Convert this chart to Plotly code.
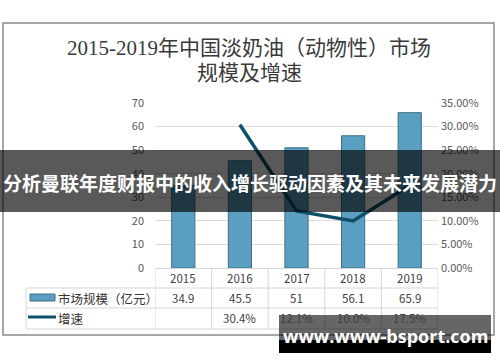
import plotly.graph_objects as go

years = ["2015", "2016", "2017", "2018", "2019"]
market_size = [34.9, 45.5, 51, 56.1, 65.9]
growth = [None, 0.304, 0.121, 0.100, 0.175]
growth_labels = ["", "30.4%", "12.1%", "10.0%", "17.5%"]
size_labels = ["34.9", "45.5", "51", "56.1", "65.9"]
series_names = ["市场规模（亿元）", "增速"]
title_lines = ["2015-2019年中国淡奶油（动物性）市场", "规模及增速"]
banner_text = "分析曼联年度财报中的收入增长驱动因素及其未来发展潜力"
watermark_text = "www.www-bsport.com"

W, H = 500, 362
BAR_COLOR = "#5a9fc1"
LINE_COLOR = "#0e5069"
GRID = "#dcdcdc"
TXT = "#404040"


def px(x):
    return x / W


def py(y):
    return 1 - y / H


def note(x, y, text, size, color=TXT, family=None, xref="paper", xanchor="center"):
    f = dict(size=size, color=color)
    if family:
        f["family"] = family
    return dict(x=x, xref=xref, y=py(y), yref="paper", text=text, showarrow=False,
                xanchor=xanchor, yanchor="middle", font=f)


fig = go.Figure()
fig.add_trace(go.Bar(
    x=years, y=market_size, name=series_names[0], width=0.41,
    marker=dict(color=BAR_COLOR, line=dict(color="#3d6f86", width=1)),
))
fig.add_trace(go.Scatter(
    x=years, y=growth, name=series_names[1], yaxis="y2", mode="lines",
    line=dict(color=LINE_COLOR, width=3.5),
))

shapes = []
annotations = []

# outer frame
shapes.append(dict(type="rect", xref="paper", yref="paper",
                   x0=px(3), x1=px(494), y0=py(23), y1=py(335),
                   line=dict(color="#8a8a8a", width=1.5), layer="below"))

# table
tbl_line = dict(color="#d6d6d6", width=1)
for yy in [288, 308, 329]:
    shapes.append(dict(type="line", xref="paper", yref="paper",
                       x0=px(26), x1=px(438), y0=py(yy), y1=py(yy), line=tbl_line))
shapes.append(dict(type="line", xref="paper", yref="paper",
                   x0=px(26), x1=px(26), y0=py(288), y1=py(329), line=tbl_line))
for i in range(len(years) + 1):
    shapes.append(dict(type="line", xref="x", yref="paper",
                       x0=i - 0.5, x1=i - 0.5, y0=py(269), y1=py(329), line=tbl_line))
shapes.append(dict(type="line", xref="x", yref="paper",
                   x0=-0.5, x1=len(years) - 0.5, y0=py(268.5), y1=py(268.5), line=tbl_line))

for i, yr in enumerate(years):
    annotations.append(note(i, 278, yr, 11.5, xref="x"))
    annotations.append(note(i, 298, size_labels[i], 11.5, xref="x"))
    if growth_labels[i]:
        annotations.append(note(i, 318, growth_labels[i], 11.5, xref="x"))

# legend keys in table
shapes.append(dict(type="rect", xref="paper", yref="paper",
                   x0=px(30), x1=px(55), y0=py(301), y1=py(294),
                   fillcolor=BAR_COLOR, line=dict(color="#3d6f86", width=1)))
shapes.append(dict(type="line", xref="paper", yref="paper",
                   x0=px(28), x1=px(56), y0=py(317), y1=py(317),
                   line=dict(color=LINE_COLOR, width=3)))
annotations.append(note(px(56), 298, series_names[0], 12.5, color="#333333",
                        family="Noto Sans CJK SC", xanchor="left"))
annotations.append(note(px(56), 318, series_names[1], 12.5, color="#333333",
                        family="Noto Sans CJK SC", xanchor="left"))

# title
serif = "Liberation Serif, Noto Sans CJK SC"
annotations.append(note(px(249), 48, title_lines[0], 21, color="#3a3a3a", family=serif))
annotations.append(note(px(249), 73, title_lines[1], 21, color="#3a3a3a", family=serif))

# banner overlay
shapes.append(dict(type="rect", xref="paper", yref="paper", x0=0, x1=1,
                   y0=py(212), y1=py(150), fillcolor="rgba(0,0,0,0.65)",
                   line=dict(width=0), layer="above"))
annotations.append(note(0.5, 182, "<b>" + banner_text + "</b>", 19, color="white",
                        family="Noto Sans CJK SC"))

# watermark
shapes.append(dict(type="rect", xref="paper", yref="paper", x0=px(279), x1=px(491),
                   y0=py(340), y1=py(315), fillcolor="rgba(0,0,0,0.6)",
                   line=dict(width=0), layer="above"))
shapes.append(dict(type="rect", xref="paper", yref="paper", x0=px(279), x1=px(491),
                   y0=py(353), y1=py(340), fillcolor="black",
                   line=dict(width=0), layer="above"))
annotations.append(note(px(385), 336, "<b>" + watermark_text + "</b>", 18, color="white",
                        family="Open Sans"))

fig.update_layout(
    width=W, height=H, margin=dict(l=0, r=0, t=0, b=0, pad=0, autoexpand=False),
    paper_bgcolor="white", plot_bgcolor="white", showlegend=False,
    font=dict(family="Noto Sans CJK SC, Liberation Sans", color="#595959"),
    xaxis=dict(type="category", domain=[px(155), px(438)], range=[-0.5, 4.5], showticklabels=False,
               showgrid=False, zeroline=False, showline=False, fixedrange=True, automargin=False),
    yaxis=dict(domain=[py(268), py(103)], range=[0, 70], dtick=10, showgrid=True,
               gridcolor=GRID, gridwidth=1, zeroline=False, showline=False, automargin=False,
               tickfont=dict(size=11, color="#595959"), ticklabelstandoff=10),
    yaxis2=dict(overlaying="y", side="right", range=[0, 0.35], dtick=0.05, automargin=False,
                tickformat=".2%", showgrid=False, zeroline=False, showline=False,
                tickfont=dict(size=11, color="#595959"), ticklabelstandoff=2),
    shapes=shapes, annotations=annotations,
)

fig.write_html("out.html", config={"displayModeBar": False},
               post_script="document.body.style.margin='0';")
